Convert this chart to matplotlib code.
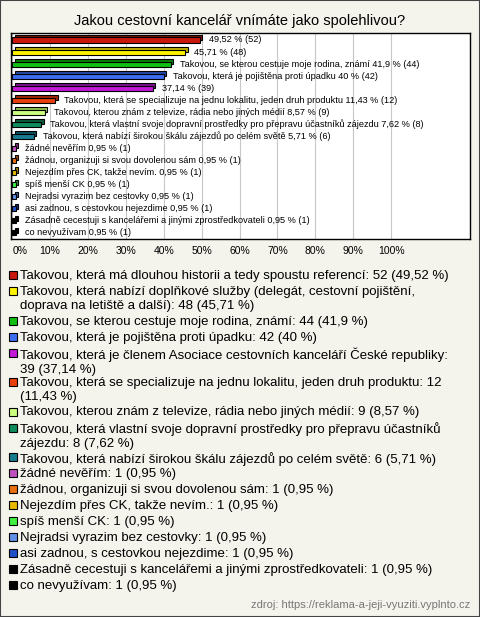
import textwrap
import numpy as np
import matplotlib
matplotlib.use("Agg")
import matplotlib.pyplot as plt
from matplotlib.patches import Rectangle
import matplotlib.transforms as mtransforms

plt.rcParams['font.family'] = ['Liberation Sans', 'DejaVu Sans']

title = "Jakou cestovní kancelář vnímáte jako spolehlivou?"

names = [
    "Takovou, která má dlouhou historii a tedy spoustu referencí",
    "Takovou, která nabízí doplňkové služby (delegát, cestovní pojištění, doprava na letiště a další)",
    "Takovou, se kterou cestuje moje rodina, známí",
    "Takovou, která je pojištěna proti úpadku",
    "Takovou, která je členem Asociace cestovních kanceláří České republiky",
    "Takovou, která se specializuje na jednu lokalitu, jeden druh produktu",
    "Takovou, kterou znám z televize, rádia nebo jiných médií",
    "Takovou, která vlastní svoje dopravní prostředky pro přepravu účastníků zájezdu",
    "Takovou, která nabízí širokou škálu zájezdů po celém světě",
    "žádné nevěřím",
    "žádnou, organizuji si svou dovolenou sám",
    "Nejezdím přes CK, takže nevím.",
    "spíš menší CK",
    "Nejradsi vyrazim bez cestovky",
    "asi zadnou, s cestovkou nejezdime",
    "Zásadně cecestuji s kancelářemi a jinými zprostředkovateli",
    "co nevyužívam",
]
counts = [52, 48, 44, 42, 39, 12, 9, 8, 6, 1, 1, 1, 1, 1, 1, 1, 1]
percents = [49.52, 45.71, 41.9, 40, 37.14, 11.43, 8.57, 7.62, 5.71,
            0.95, 0.95, 0.95, 0.95, 0.95, 0.95, 0.95, 0.95]
# bars whose label in the chart carries the answer text too
label_with_name = [False, False, True, True, False, True, True, True, True,
                   True, True, True, True, True, True, True, True]

colors = ['#c8180c', '#fff200', '#10c010', '#3c6cf0', '#c418d8', '#e8400c',
          '#ccff80', '#108c5c', '#187c90', '#c050c0', '#e87010', '#e8b800',
          '#40f040', '#6090e8', '#2050c8', '#000000', '#000000']
side_colors = ['#801008', '#c0b000', '#088008', '#2848a8', '#801090', '#a02808',
               '#90c050', '#085c3c', '#0c5060', '#803080', '#a04808', '#a07c00',
               '#20a020', '#4060a0', '#103080', '#000000', '#000000']


def fmt(p):
    s = ('%.2f' % p).rstrip('0').rstrip('.')
    return s.replace('.', ',')


W, H = 480, 617
fig = plt.figure(figsize=(W / 100, H / 100), dpi=100)
fig.patch.set_facecolor('#f4f3ec')
fig.patches.append(Rectangle((0, 0), 1, 1, transform=fig.transFigure, fill=False,
                             edgecolor='#444444', linewidth=1.5))

fig.text(0.5, 1 - 21 / H, title, ha='center', va='center', fontsize=10.5)

ax = fig.add_axes([11 / W, 1 - 239 / H, 459 / W, 206 / H])
ax.set_facecolor('white')
for s in ax.spines.values():
    s.set_color('black')
    s.set_linewidth(1)

y = np.arange(len(names))
bh = 0.42
off = mtransforms.ScaledTranslation(2.5 / 100, 2.5 / 100, fig.dpi_scale_trans)
# back face, shifted, gives the 3d look
ax.barh(y, percents, height=bh, color=side_colors, edgecolor='black', linewidth=0.8,
        transform=ax.transData + off, zorder=3)
ax.barh(y, percents, height=bh, color=colors, edgecolor='black', linewidth=0.8, zorder=4)

for i, p in enumerate(percents):
    txt = '%s %% (%d)' % (fmt(p), counts[i])
    if label_with_name[i]:
        txt = names[i] + ' ' + txt
    ax.annotate(txt, (p, i), xytext=(9, 0), textcoords='offset pixels',
                va='center', ha='left', fontsize=6.6, zorder=5)

ax.set_xlim(-0.3, 120.8)
ax.set_ylim(len(names) - 0.48, -0.58)
ax.set_xticks(np.arange(0, 101, 10))
ax.set_xticklabels(['%d%%' % v for v in range(0, 101, 10)], fontsize=7.5)
ax.get_xticklabels()[0].set_horizontalalignment('left')
ax.tick_params(axis='x', length=0, pad=5)
ax.set_yticks([])
ax.grid(axis='x', color='#c8c8c8', linewidth=0.8, zorder=0)
ax.set_axisbelow(True)

# legend below the chart
ly = 275
for i, n in enumerate(names):
    yy = 1 - ly / H
    fig.patches.append(Rectangle((9 / W, yy - 4 / H), 8 / W, 8 / H, transform=fig.transFigure,
                                 facecolor=colors[i], edgecolor='black', linewidth=0.8))
    lab = '%s: %d (%s %%)' % (n, counts[i], fmt(percents[i]))
    lab = '\n'.join(textwrap.wrap(lab, 73))
    fig.text(20 / W, yy + 5 / H, lab, ha='left', va='top', fontsize=9.5, linespacing=1.18)
    ly += 16 + 13.5 * lab.count('\n')

fig.text(470 / W, 1 - 605 / H, 'zdroj: https://reklama-a-jeji-vyuziti.vyplnto.cz',
         ha='right', va='center', fontsize=8, color='#777777')

fig.savefig('out.png', dpi=100, facecolor=fig.get_facecolor())
